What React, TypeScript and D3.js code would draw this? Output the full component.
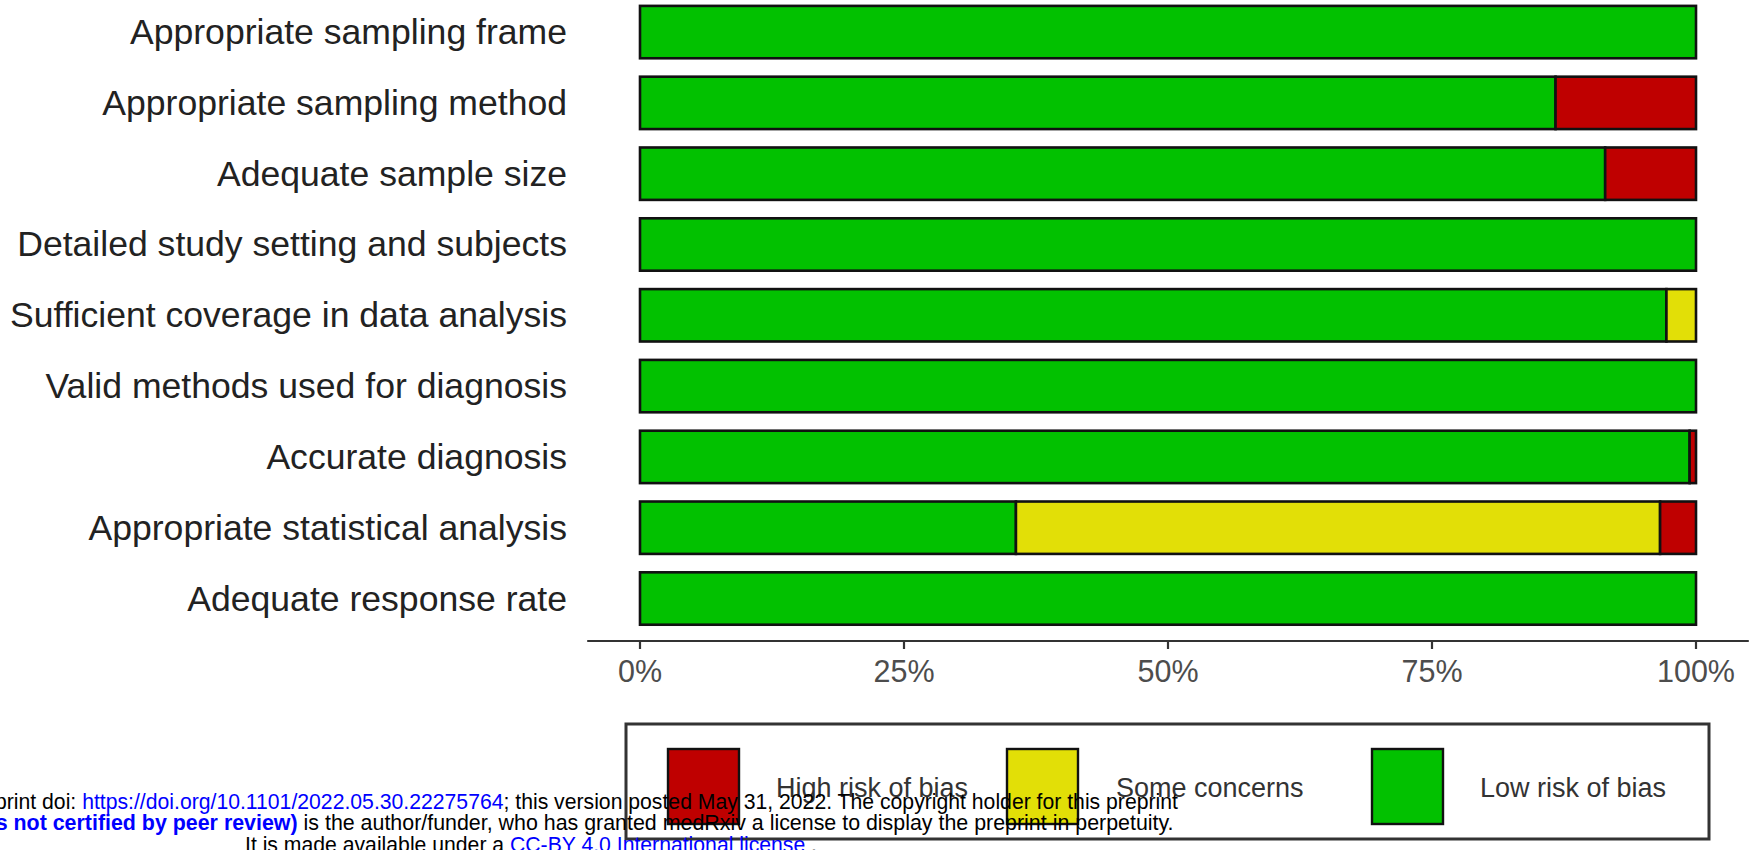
import React from "react";
import * as d3 from "d3";

const categories = [
  "Appropriate sampling frame",
  "Appropriate sampling method",
  "Adequate sample size",
  "Detailed study setting and subjects",
  "Sufficient coverage in data analysis",
  "Valid methods used for diagnosis",
  "Accurate diagnosis",
  "Appropriate statistical analysis",
  "Adequate response rate",
];
const lowRisk = [100, 86.7, 91.4, 100, 97.2, 100, 99.4, 35.6, 100];
const someConcerns = [0, 0, 0, 0, 2.8, 0, 0, 61.0, 0];
const highRisk = [0, 13.3, 8.6, 0, 0, 0, 0.6, 3.4, 0];

const tickValues = [0, 25, 50, 75, 100];
const tickLabels = ["0%", "25%", "50%", "75%", "100%"];

const legendLabels = ["High risk of bias", "Some concerns", "Low risk of bias"];
const legendKeys = ["high", "some", "low"];

const colors: Record<string, string> = {
  low: "#02C100",
  some: "#E2DF07",
  high: "#BF0000",
};

const W = 1754;
const H = 850;
const FONT = "'Liberation Sans', Arial, Helvetica, sans-serif";

export default function App() {
  const x = d3.scaleLinear().domain([0, 100]).range([640, 1696]);
  const y = d3
    .scaleBand<string>()
    .domain(categories)
    .range([-10.4, 641])
    .paddingInner(0.26)
    .paddingOuter(0.23);

  const rows = categories.map((c, i) => ({
    cat: c,
    low: lowRisk[i],
    some: someConcerns[i],
    high: highRisk[i],
  }));
  const stack = d3.stack<any>().keys(["low", "some", "high"]);
  const series = stack(rows);

  const axisY = 641;
  const legendX = [668, 1007, 1372];
  const legendTextX = [776, 1116, 1480];

  return (
    <svg
      width={W}
      height={H}
      style={{ position: "absolute", left: 0, top: 0, background: "#fff" }}
      fontFamily={FONT}
    >
      <rect x={0} y={0} width={W} height={H} fill="#fff" />
      {/* bars */}
      {series.map((s) => (
        <g key={s.key}>
          {s.map((d, i) =>
            d[1] - d[0] > 0 ? (
              <rect
                key={i}
                x={x(d[0])}
                y={y(categories[i])}
                width={x(d[1]) - x(d[0])}
                height={y.bandwidth()}
                fill={colors[s.key]}
                stroke="#111"
                strokeWidth={2.6}
              />
            ) : null
          )}
        </g>
      ))}
      {/* y labels */}
      {categories.map((c) => (
        <text
          key={c}
          x={567}
          y={(y(c) as number) + y.bandwidth() / 2}
          textAnchor="end"
          dominantBaseline="central"
          fontSize={35.6}
          fill="#222"
        >
          {c}
        </text>
      ))}
      {/* x axis */}
      <line
        x1={x(-5)}
        x2={x(105)}
        y1={axisY}
        y2={axisY}
        stroke="#333"
        strokeWidth={2.2}
      />
      {tickValues.map((v, i) => (
        <g key={v}>
          <line
            x1={x(v)}
            x2={x(v)}
            y1={axisY}
            y2={axisY + 8}
            stroke="#333"
            strokeWidth={2.2}
          />
          <text
            x={x(v)}
            y={682}
            textAnchor="middle"
            fontSize={30.5}
            fill="#4d4d4d"
          >
            {tickLabels[i]}
          </text>
        </g>
      ))}
      {/* legend */}
      <rect
        x={626}
        y={724}
        width={1709 - 626}
        height={839 - 724}
        fill="#fff"
        stroke="#333"
        strokeWidth={3}
      />
      {legendKeys.map((k, i) => (
        <g key={k}>
          <rect
            x={legendX[i]}
            y={749}
            width={71}
            height={75}
            fill={colors[k]}
            stroke="#111"
            strokeWidth={2.4}
          />
          <text
            x={legendTextX[i]}
            y={788}
            dominantBaseline="central"
            fontSize={27}
            fill="#333"
          >
            {legendLabels[i]}
          </text>
        </g>
      ))}
      {/* medRxiv footer */}
      <g>
        <text x={527} y={809} textAnchor="middle" fill="#000" fontSize={21.2}>
          <tspan>medRxiv preprint doi: </tspan>
          <tspan fill="#0000ff">https://doi.org/10.1101/2022.05.30.22275764</tspan>
          <tspan>; this version posted May 31, 2022. The copyright holder for this preprint</tspan>
        </text>
        <text x={533.5} y={830} textAnchor="middle" fill="#000" fontSize={21.4}>
          <tspan fill="#0000ff" fontWeight="bold">(which was not certified by peer review)</tspan>
          <tspan> is the author/funder, who has granted medRxiv a license to display the preprint in perpetuity.</tspan>
        </text>
        <text x={531} y={852} textAnchor="middle" fill="#000" fontSize={21.2}>
          <tspan>It is made available under a </tspan>
          <tspan fill="#0000ff">CC-BY 4.0 International license</tspan>
          <tspan> .</tspan>
        </text>
      </g>
    </svg>
  );
}
